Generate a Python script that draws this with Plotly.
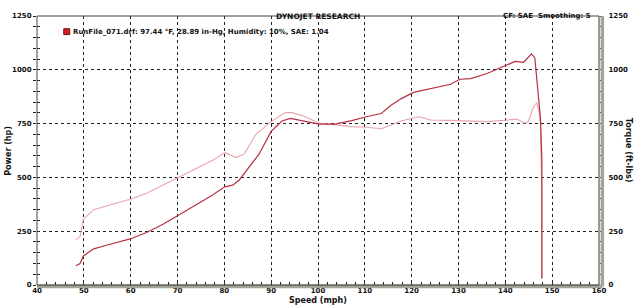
import plotly.graph_objects as go

# ---- data ----
speed_power = [48.3, 49.2, 49.9, 52.1, 55.0, 59.9, 63.4, 66.9, 70.1, 74.0, 77.5, 80.1, 81.8, 83.2,
               85.3, 87.4, 90.0, 92.3, 94.1, 97.3, 100.2, 103.6, 107.2, 110.3, 113.5, 115.6, 117.7,
               120.4, 125.5, 128.3, 130.3, 132.6, 136.1, 140.5, 142.1, 143.9, 145.6, 146.3, 147.0,
               147.5, 147.8, 147.8]
power_hp = [89, 100, 135, 168, 186, 214, 244, 282, 323, 373, 418, 456, 464, 488,
            547, 608, 714, 762, 774, 759, 748, 748, 764, 782, 797, 835, 865,
            895, 918, 933, 956, 959, 983, 1024, 1039, 1035, 1074, 1055, 910,
            774, 577, 30]

speed_torque = [48.3, 49.2, 49.9, 52.1, 55.0, 59.9, 63.4, 66.9, 70.1, 74.0, 77.5, 80.1, 82.5, 84.2,
                86.7, 90.0, 93.0, 94.5, 97.3, 100.2, 103.6, 107.2, 110.3, 113.5, 115.6, 117.7,
                121.6, 124.1, 128.0, 131.9, 136.1, 140.5, 142.5, 144.0, 144.9, 146.0, 146.7,
                147.2, 147.5, 147.8, 147.8]
torque_ftlb = [210, 226, 305, 350, 368, 398, 426, 464, 499, 539, 580, 615, 592, 608,
               699, 759, 801, 801, 782, 752, 744, 736, 733, 726, 744, 762,
               782, 767, 765, 762, 759, 767, 771, 752, 759, 827, 847,
               805, 744, 410, 30]

x_ticks = list(range(40, 161, 10))
y_ticks = [0, 250, 500, 750, 1000, 1250]

title_text = "DYNOJET RESEARCH"
info_text = "CF: SAE  Smoothing: 5"
legend_text = "RunFile_071.drf: 97.44 °F, 28.89 in-Hg, Humidity: 10%, SAE: 1.04"

FONT = "DejaVu Sans"
POWER_COLOR = "#b8303f"
TORQUE_COLOR = "#e8a4ad"

fig = go.Figure()
fig.add_trace(go.Scatter(x=speed_torque, y=torque_ftlb, mode="lines",
                         line=dict(color=TORQUE_COLOR, width=1.1), showlegend=False))
fig.add_trace(go.Scatter(x=speed_power, y=power_hp, mode="lines",
                         line=dict(color=POWER_COLOR, width=1.2), showlegend=False))

tickfont = dict(family=FONT, size=7, color="#111")
grid = dict(showgrid=True, gridcolor="#222", griddash="dot", gridwidth=1)

fig.update_layout(
    width=640, height=307,
    margin=dict(l=36, r=37, t=12, b=20),
    paper_bgcolor="white", plot_bgcolor="white",
    font=dict(family=FONT, size=7, color="#111"),
    xaxis=dict(range=[40, 160], tickvals=x_ticks, ticks="inside", ticklen=3, tickcolor="#222",
               minor=dict(dtick=2, ticks="inside", ticklen=3, tickcolor="#222", showgrid=False),
               tickfont=dict(family=FONT, size=7, color="#111", weight="bold"),
               showline=False, zeroline=False, **grid),
    yaxis=dict(range=[0, 1250], tickvals=y_ticks, ticks="outside", ticklen=3, tickcolor="#222",
               minor=dict(dtick=50, ticks="outside", ticklen=3, tickcolor="#222", showgrid=False),
               tickfont=dict(family=FONT, size=7, color="#111", weight="bold"),
               showline=False, zeroline=False, **grid),
    yaxis2=dict(range=[0, 1250], tickvals=y_ticks, overlaying="y", side="right", ticks="outside",
                ticklen=4, tickcolor="#222",
                minor=dict(dtick=50, ticks="outside", ticklen=4, tickcolor="#222"),
                tickfont=dict(family=FONT, size=7, color="#111", weight="bold"),
                ticklabelstandoff=3,
                showgrid=False, zeroline=False, showline=False),
    yaxis3=dict(range=[0, 1250], tickvals=y_ticks, overlaying="y", side="left", ticks="inside",
                ticklen=3, tickcolor="#222", showticklabels=False,
                minor=dict(dtick=50, ticks="inside", ticklen=3, tickcolor="#222"),
                showgrid=False, zeroline=False, showline=False),
)

# dummy traces to activate overlay axes
fig.add_trace(go.Scatter(x=[None], y=[None], yaxis="y2", showlegend=False, hoverinfo="skip"))
fig.add_trace(go.Scatter(x=[None], y=[None], yaxis="y3", showlegend=False, hoverinfo="skip"))

# frame: thin dark top/left, thick gray bottom/right
shapes = [
    dict(type="line", xref="paper", yref="paper", x0=0, x1=1, y0=1, y1=1,
         line=dict(color="#444", width=1)),
    dict(type="line", xref="paper", yref="paper", x0=0, x1=0, y0=0, y1=1,
         line=dict(color="#444", width=1)),
    dict(type="line", xref="paper", yref="paper", x0=0, x1=1.006, y0=-0.006, y1=-0.006,
         line=dict(color="#a4a499", width=3.5)),
    dict(type="line", xref="paper", yref="paper", x0=1.006, x1=1.006, y0=-0.006, y1=1,
         line=dict(color="#a4a499", width=3.5)),
    dict(type="line", xref="paper", yref="paper", x0=0, x1=1, y0=0, y1=0,
         line=dict(color="#333", width=1)),
    dict(type="line", xref="paper", yref="paper", x0=1, x1=1, y0=0, y1=1,
         line=dict(color="#333", width=1)),
    # legend swatch
    dict(type="rect", xref="paper", yref="paper", x0=(63 - 36) / 567, x1=(69 - 36) / 567,
         y0=(287 - 31) / 275, y1=(287 - 25) / 275,
         fillcolor="#d42020", line=dict(color="#7a1010", width=1)),
]
fig.update_layout(shapes=shapes)

bold = dict(family=FONT, size=7, color="#111", weight="bold")
annotations = [
    dict(text=title_text, x=0.5, y=6, xref="paper", yref="paper", showarrow=False,
         font=dict(family=FONT, size=7.5, color="#111", weight="bold")),
    dict(text=info_text, x=633 / 640, y=6, xref="paper", yref="paper", showarrow=False,
         xanchor="right", font=bold),
    dict(text=legend_text, x=(70 - 36) / 567, y=(287 - 28) / 275, xref="paper", yref="paper",
         showarrow=False, xanchor="left", yanchor="middle", font=bold),
    dict(text="Speed (mph)", x=(320 - 36) / 567, y=(287 - 303) / 275, xref="paper", yref="paper",
         showarrow=False, yanchor="middle", font=dict(family=FONT, size=8, color="#111", weight="bold")),
    dict(text="Power (hp)", x=(7 - 36) / 567, y=0.5, xref="paper", yref="paper", showarrow=False,
         textangle=-90, xanchor="center", yanchor="middle",
         font=dict(family=FONT, size=8, color="#111", weight="bold")),
    dict(text="Torque (ft-lbs)", x=(633 - 36) / 567, y=0.5, xref="paper", yref="paper",
         showarrow=False, textangle=90, xanchor="center", yanchor="middle",
         font=dict(family=FONT, size=8, color="#111", weight="bold")),
]
# title/info y in paper coords
annotations[0]["y"] = (287 - 6) / 275
annotations[1]["y"] = (287 - 6) / 275
fig.update_layout(annotations=annotations)

fig.write_html("out.html")
